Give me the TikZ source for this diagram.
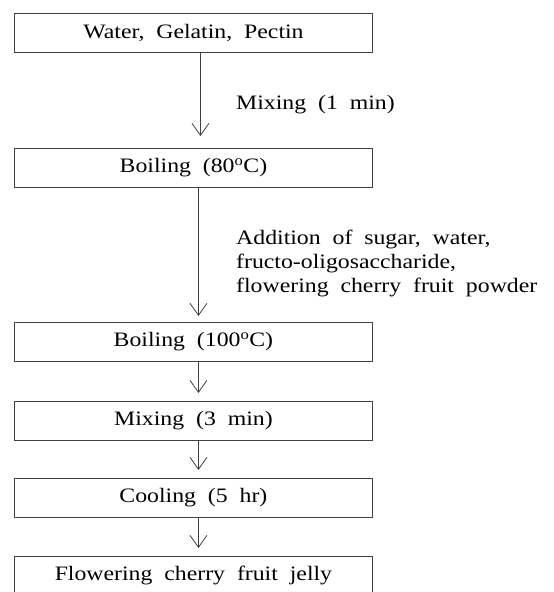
\documentclass[tikz,border=0pt]{standalone}
\usepackage{fontspec}
\setmainfont{Liberation Serif}[FakeStretch=1.16,WordSpace=2.0]
\usetikzlibrary{arrows.meta}
\begin{document}
\begin{tikzpicture}[x=1pt,y=-1pt,
  stepbox/.style={draw=black!75, line width=0.9pt, minimum width=358pt, minimum height=39pt,
    inner sep=0pt, anchor=north west, font=\fontsize{20.5}{24}\selectfont},
  flow/.style={draw=black!75, line width=0.8pt, -{Straight Barb[length=12pt,width=17pt,line width=0.8pt]}},
  lbl/.style={anchor=west, align=left, inner sep=0pt, font=\fontsize{20.5}{24}\selectfont}]
\useasboundingbox (0,0) rectangle (554,592);
\clip (0,0) rectangle (554,592);
\node[stepbox] (b1) at (14,13) {Water, Gelatin, Pectin};
\node[stepbox] (b2) at (14,148) {Boiling (80\textsuperscript{o}C)};
\node[stepbox] (b3) at (14,322) {Boiling (100\textsuperscript{o}C)};
\node[stepbox] (b4) at (14,401) {Mixing (3 min)};
\node[stepbox] (b5) at (14,478) {Cooling (5 hr)};
\node[stepbox] (b6) at (14,556) {Flowering cherry fruit jelly};
\draw[flow, shorten >=12pt] ([xshift=7pt]b1.south) -- ([xshift=7pt]b2.north);
\draw[flow, shorten >=6pt] ([xshift=5pt]b2.south) -- ([xshift=5pt]b3.north);
\draw[flow, shorten >=8pt] ([xshift=5pt]b3.south) -- ([xshift=5pt]b4.north);
\draw[flow, shorten >=8pt] ([xshift=5pt]b4.south) -- ([xshift=5pt]b5.north);
\draw[flow, shorten >=8pt] ([xshift=5pt]b5.south) -- ([xshift=5pt]b6.north);
\node[lbl] (l1) at (236,105) {Mixing (1 min)};
\node[lbl] (l2) at (236,263) {Addition of sugar, water,\\fructo-oligosaccharide,\\flowering cherry fruit powder};
\end{tikzpicture}
\end{document}
